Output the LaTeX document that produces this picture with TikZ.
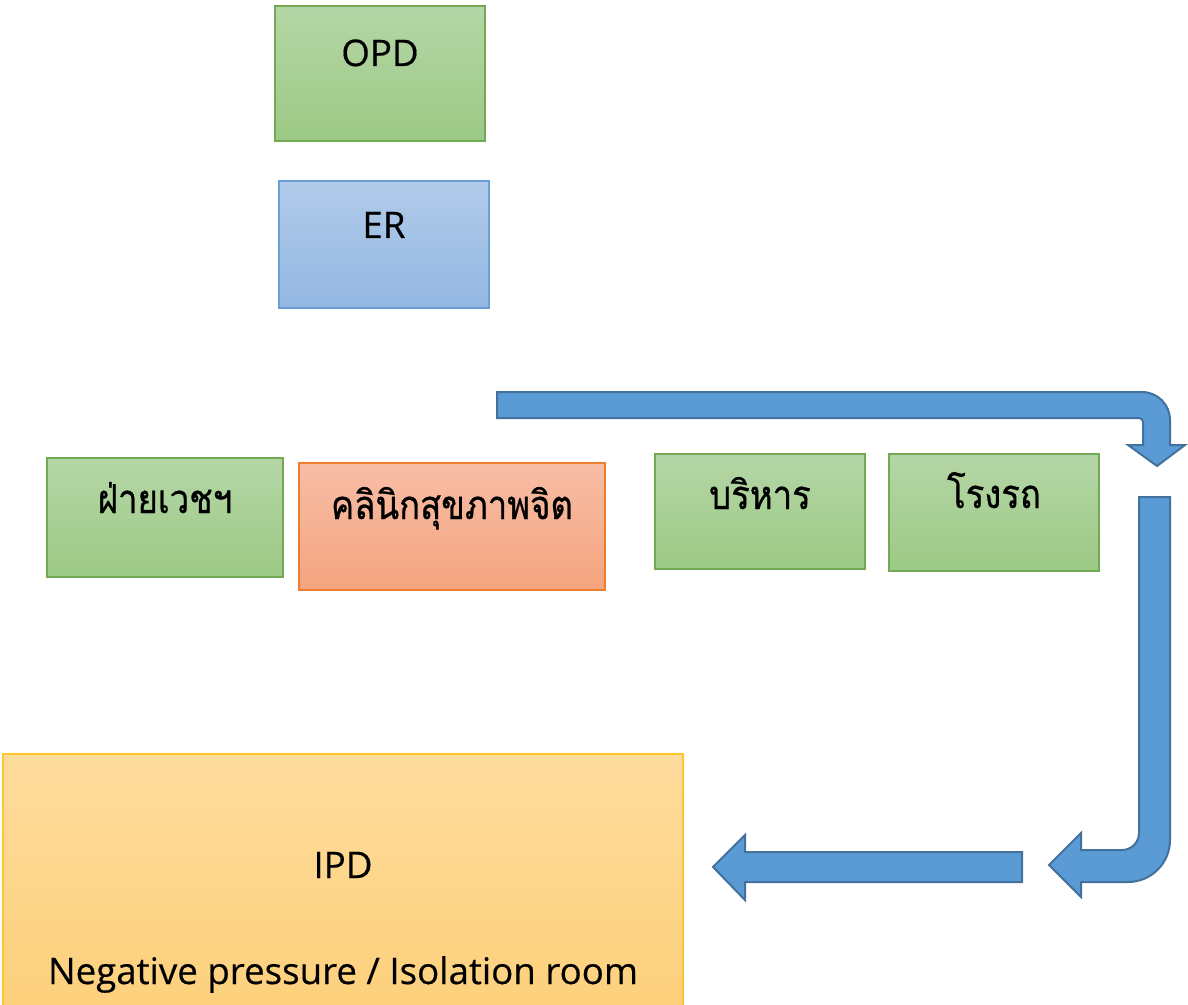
\documentclass[tikz,border=0pt]{standalone}
\usepackage{fontspec}
\setmainfont{Open Sans}[FakeBold=0.4]
\newfontfamily\thaifont[Script=Thai,FakeBold=0.8]{Loma}
\begin{document}
\begin{tikzpicture}[x=0.75pt,y=-0.75pt,
  box/.style={draw, line width=0.9pt, shading=axis, shading angle=0},
  greenbox/.style={box, draw=boxgreen, top color=greentop, bottom color=greenbot},
  bluebox/.style={box, draw=boxblue, top color=bluetop, bottom color=bluebot},
  orangebox/.style={box, draw=boxorange, top color=orangetop, bottom color=orangebot},
  yellowbox/.style={box, draw=boxyellow, top color=yellowtop, bottom color=yellowbot},
  lbl/.style={anchor=base, inner sep=0pt, font=\fontsize{27.5}{32}\selectfont},
  thlbl/.style={anchor=base, inner sep=0pt, font=\thaifont\fontsize{26}{32}\selectfont},
  blockarrow/.style={fill=arrowfill, draw=arrowline, line width=1.5pt, line join=miter}]
\definecolor{boxgreen}{HTML}{72A955}
\definecolor{greentop}{HTML}{B5D6A6}
\definecolor{greenbot}{HTML}{9CC985}
\definecolor{boxblue}{HTML}{6A9FD6}
\definecolor{bluetop}{HTML}{B1CBEA}
\definecolor{bluebot}{HTML}{93B7E2}
\definecolor{boxorange}{HTML}{ED7D31}
\definecolor{orangetop}{HTML}{F7BDA6}
\definecolor{orangebot}{HTML}{F5A47E}
\definecolor{boxyellow}{HTML}{FFC52A}
\definecolor{yellowtop}{HTML}{FEDC9D}
\definecolor{yellowbot}{HTML}{FDD07B}
\definecolor{arrowfill}{HTML}{5B9BD5}
\definecolor{arrowline}{HTML}{41719C}

\useasboundingbox (0,0) rectangle (1188,1005);

% room blocks
\path[greenbox]  (275,6)   rectangle (485,141);
\path[bluebox]   (279,181) rectangle (489,308);
\path[greenbox]  (47,458)  rectangle (283,577);
\path[orangebox] (299,463) rectangle (605,590);
\path[greenbox]  (655,454) rectangle (865,569);
\path[greenbox]  (889,454) rectangle (1099,571);
\path[yellowbox] (3,754)   rectangle (683,1012);

% room names
\node[lbl]   (opd)  at (380,66)  {OPD};
\node[lbl]   (er)   at (384,238) {ER};
\node[thlbl] (vech) at (165,513) {\scalebox{1}[1.15]{ฝ่ายเวชฯ}};
\node[thlbl] (clin) at (452,519) {\scalebox{1}[1.15]{คลินิกสุขภาพจิต}};
\node[thlbl] (adm)  at (760,509) {\scalebox{1}[1.15]{บริหาร}};
\node[thlbl] (gar)  at (994,508) {\scalebox{1}[1.15]{โรงรถ}};
\node[lbl]   (ipd)  at (343,878) {IPD};
\node[lbl]   (iso)  at (343,984) {Negative pressure / Isolation room};

% flow arrows (quarter-circle bends drawn as Bezier curves)
\draw[blockarrow] (497,392) -- (1142,392)
  .. controls (1157.5,392) and (1170,404.5) .. (1170,420)
  -- (1170,445) -- (1185,445)
  -- (1157,466) -- (1128,445) -- (1143,445) -- (1143,422)
  .. controls (1143,419.8) and (1141.2,418) .. (1139,418)
  -- (497,418) -- cycle;

\draw[blockarrow] (1139,497) -- (1170,497) -- (1170,840)
  .. controls (1170,863.2) and (1151.2,882) .. (1128,882)
  -- (1081,882) -- (1081,897)
  -- (1049,865) -- (1081,833) -- (1081,850) -- (1122,850)
  .. controls (1131.4,850) and (1139,842.4) .. (1139,833)
  -- cycle;

\draw[blockarrow] (1022,852) -- (745,852) -- (745,835) -- (713,867)
  -- (745,900) -- (745,882) -- (1022,882) -- cycle;
\end{tikzpicture}
\end{document}
